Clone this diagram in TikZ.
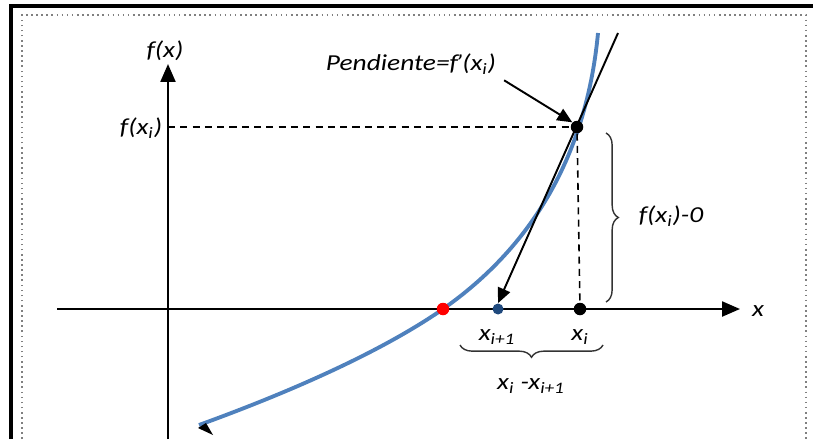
\documentclass[tikz,border=0pt]{standalone}
\usepackage{fontspec}
\setmainfont{Carlito}[FakeStretch=1.2]
\usetikzlibrary{positioning, arrows.meta, decorations.pathreplacing}
\definecolor{curveblue}{RGB}{79,129,189}
\definecolor{rootblue}{RGB}{31,73,125}

\begin{document}
\begin{tikzpicture}[
        x=0.02cm, y=-0.02cm,
        every node/.style={font=\fontsize{13}{15}\selectfont\itshape, inner sep=1pt},
        axis/.style={-{Triangle[length=3.6mm, width=3mm]}, line width=1.3pt},
        arr/.style={-{Triangle[length=3mm, width=2.6mm]}, line width=1.1pt},
        guide/.style={line width=0.9pt, dash pattern=on 4pt off 3pt},
        dot/.style={circle, inner sep=0pt, minimum size=2.5mm},
        brc/.style={decorate, decoration={brace, amplitude=7pt}, line width=0.8pt, black!80},
        curve/.style={line width=2.2pt, curveblue}]

      \useasboundingbox (0,0) rectangle (813,439);
      \draw[line width=1.8pt] (11,439) -- (11,6) -- (813,6);
      \draw[gray, dotted, line width=0.9pt] (22,439) -- (22,15) -- (806,15) -- (806,439);

      \coordinate (xs) at (57,309);
      \coordinate (xe) at (740,309);
      \coordinate (ys) at (168,439);
      \coordinate (ye) at (168,64);
      \node (xlab) at (758,311) {x};
      \node (ylab) at (165,51) {f(x)};

      \draw[axis] (xs) -- (xe);
      \draw[axis] (ys) -- (ye);

      % curve
      \draw[curve] (199,425) .. controls (290,392) and (381,352) .. (443,309)
                             .. controls (520,255) and (585,170) .. (598,33);
      \fill (198,428) -- (213,435) -- (206,423) -- cycle;

      \node[dot, fill=red]      (root) at (443,309) {};
      \node[dot, fill=rootblue, minimum size=2.2mm] (xnew) at (498,309) {};
      \node[dot, fill=black]    (xold) at (580,309) {};
      \node[dot, fill=black]    (pt)   at (577,127) {};
      \coordinate (yfx) at (168,127);
      \coordinate (ttop) at (618,33);

      \draw[guide] (yfx) -- (pt);
      \draw[guide] (pt) -- (xold);
      \draw[arr] (ttop) -- (xnew.north);

      \node (fxi) at (141,128) {f(x\textsubscript{i})};
      \node (pend) at (411,64) {Pendiente=f\kern-1.5pt’(x\textsubscript{i})};
      \draw[arr] (pend.south east) ++(6,4) coordinate (pa) (pa) -- (pt.north west);

      \node (lnew) at (497,337) {x\textsubscript{i+1}};
      \node (lold) at (580,337) {x\textsubscript{i}};

      \draw[brc] (606,133) -- (606,302);
      \node (dy) at (671,216) {f(x\textsubscript{i})-0};
      \draw[brc] (603,345) -- (460,345);
      \node (dx) at (531,386) {x\textsubscript{i} -x\textsubscript{i+1}};
    \end{tikzpicture}
\end{document}
